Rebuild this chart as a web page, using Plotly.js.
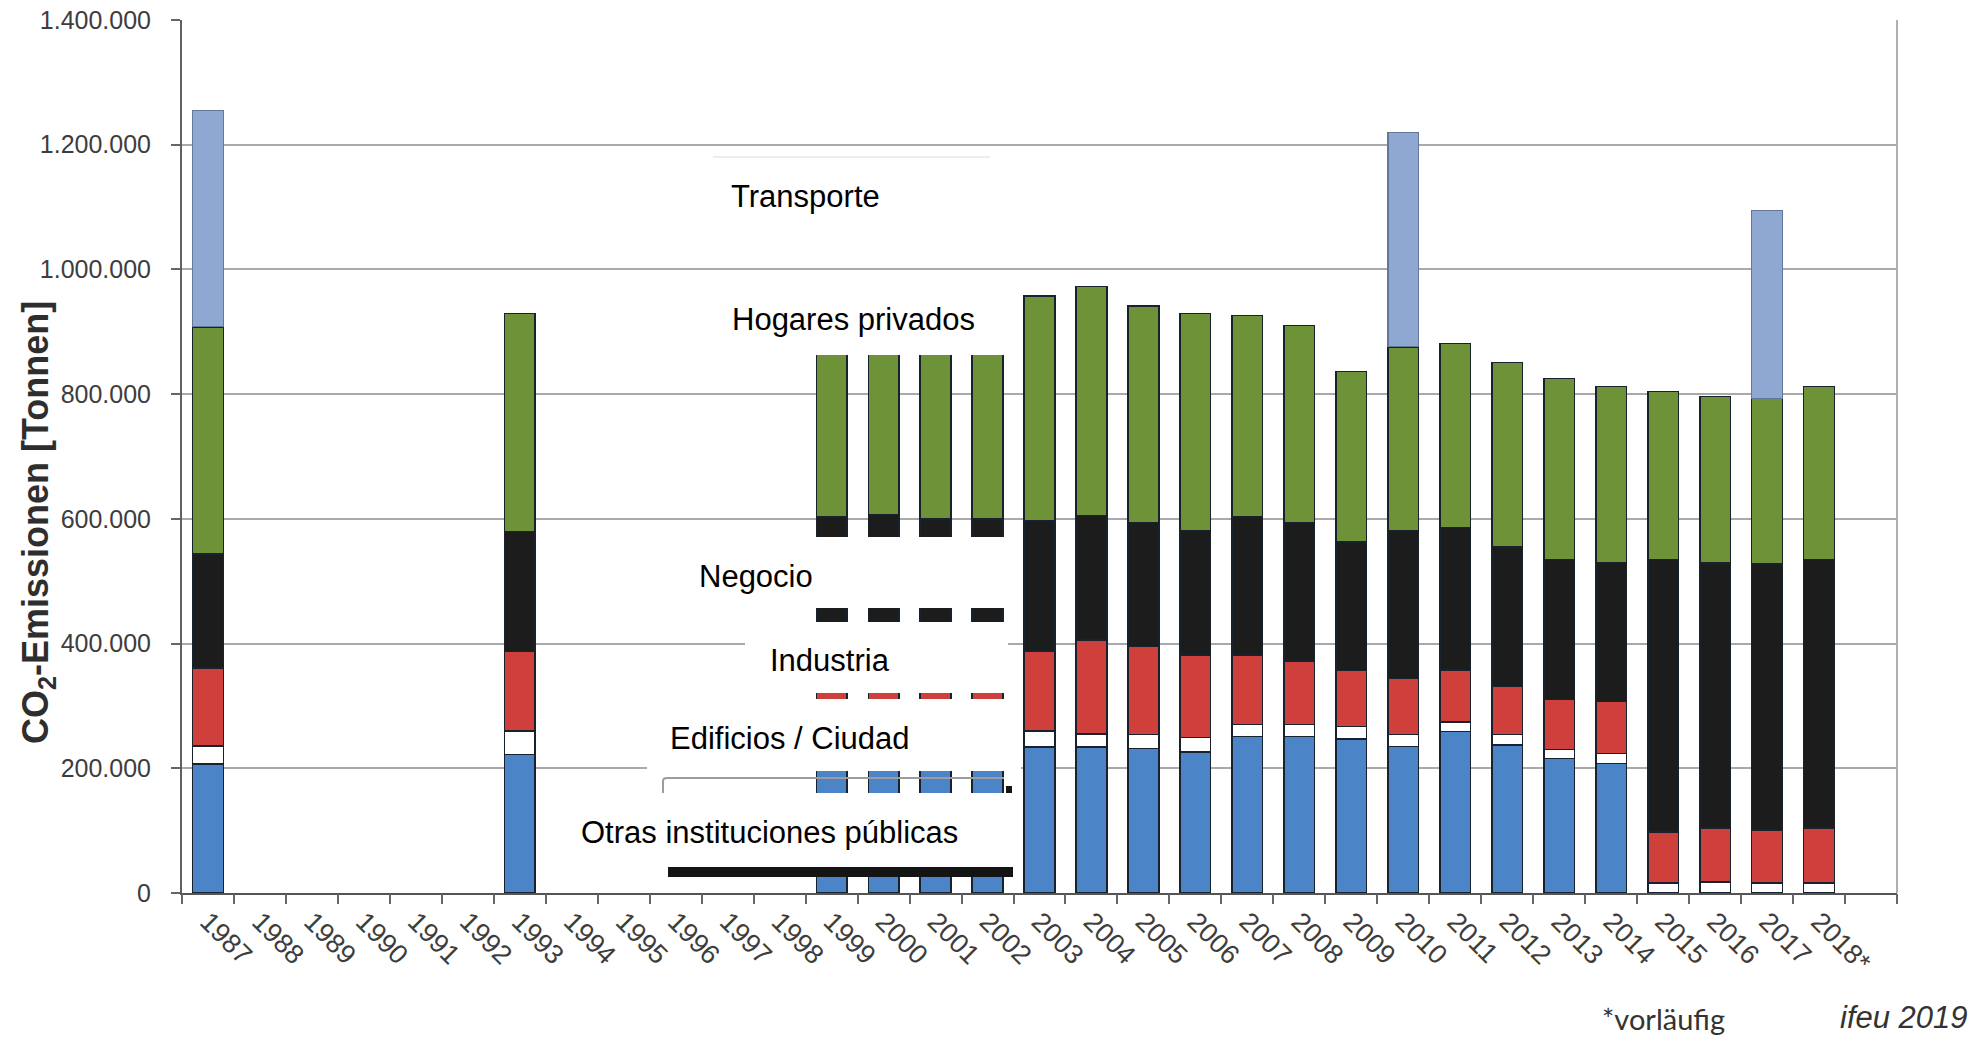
<!DOCTYPE html>
<html>
<head>
<meta charset="utf-8">
<script src="https://cdn.plot.ly/plotly-3.0.1.min.js"></script>
<style>
  html, body { margin: 0; padding: 0; background: #ffffff; }
  #chart { width: 1987px; height: 1040px; }
</style>
</head>
<body>
<div id="chart"></div>
<script>
// ---- data (tonnes CO2) ----
const years = ['1987','1988','1989','1990','1991','1992','1993','1994','1995','1996','1997','1998',
  '1999','2000','2001','2002','2003','2004','2005','2006','2007','2008','2009','2010','2011','2012',
  '2013','2014','2015','2016','2017','2018*'];

const otrasInstituciones = [207000,null,null,null,null,null,222000,null,null,null,null,null,
  235000,235000,235000,235000,234000,234000,232000,226000,251000,251000,247000,235000,259000,237000,
  216000,208000,0,0,0,0];
const edificiosCiudad = [29000,null,null,null,null,null,38000,null,null,null,null,null,
  23000,23000,23000,23000,26000,21000,22000,23000,19000,19000,20000,19000,15000,17000,
  14000,16000,16000,18000,16000,16000];
const industria = [125000,null,null,null,null,null,127000,null,null,null,null,null,
  130000,130000,130000,130000,128000,151000,141000,133000,112000,102000,90000,90000,84000,77000,
  80000,83000,82000,86000,85000,88000];
const negocio = [183000,null,null,null,null,null,193000,null,null,null,null,null,
  215000,219000,212000,212000,209000,199000,199000,199000,222000,222000,206000,237000,228000,224000,
  225000,223000,437000,425000,427000,431000];
const hogaresPrivados = [364000,null,null,null,null,null,349000,null,null,null,null,null,
  337000,333000,340000,340000,360000,368000,347000,348000,322000,316000,273000,295000,295000,296000,
  290000,282000,269000,267000,265000,277000];
const transporte = [347000,null,null,null,null,null,null,null,null,null,null,null,
  null,null,null,null,null,null,null,null,null,null,null,344000,null,null,
  null,null,null,null,302000,null];

const seriesNames = ['Otras instituciones públicas','Edificios / Ciudad','Industria','Negocio','Hogares privados','Transporte'];
const yTickVals = [0,200000,400000,600000,800000,1000000,1200000,1400000];

// ---- styling ----
const FONT = 'Liberation Sans, Arial, sans-serif';
const W = 1987, H = 1040;
const M = {l: 182, r: 90, t: 20, b: 147};
const PW = W - M.l - M.r, PH = H - M.t - M.b;
const px = X => (X - M.l) / PW;      // pixel -> paper x
const py = Y => (H - M.b - Y) / PH;  // pixel -> paper y
const NSLOTS = years.length + 1;      // one empty slot after the last year
const idx = years.map((_, i) => i);
const boundaryTicks = [];
for (let i = 0; i <= NSLOTS; i++) boundaryTicks.push(i - 0.5);

const outline = {color: '#18222c', width: 1.5};
function barTrace(name, vals, color, line) {
  return {type: 'bar', name: name, x: idx, y: vals,
    marker: {color: color, line: line || outline}, showlegend: false, hoverinfo: 'skip'};
}
const traces = [
  barTrace(seriesNames[0], otrasInstituciones, '#4b85c7'),
  barTrace(seriesNames[1], edificiosCiudad, '#ffffff'),
  barTrace(seriesNames[2], industria, '#cf403c'),
  barTrace(seriesNames[3], negocio, '#1c1c1c'),
  barTrace(seriesNames[4], hogaresPrivados, '#6e9237'),
  barTrace(seriesNames[5], transporte, '#8ea8d2', {color: '#62779a', width: 1.2}),
  {type: 'scatter', x: [], y: [], xaxis: 'x2', yaxis: 'y', showlegend: false, hoverinfo: 'skip'}
];

// label boxes (white panels covering the chart) in pixel coordinates
const boxes = [
  {x0: 713, x1: 1008, y0: 158, y1: 250},   // Transporte
  {x0: 700, x1: 1008, y0: 282, y1: 355},   // Hogares privados
  {x0: 665, x1: 1021, y0: 537, y1: 608},   // Negocio
  {x0: 745, x1: 1008, y0: 622, y1: 693},   // Industria
  {x0: 647, x1: 1021, y0: 699, y1: 771},   // Edificios / Ciudad
  {x0: 560, x1: 1021, y0: 793, y1: 867}    // Otras instituciones públicas
];
const labelPos = [
  {x: 729, y: 197, t: seriesNames[5]},
  {x: 730, y: 319, t: seriesNames[4]},
  {x: 697, y: 576, t: seriesNames[3]},
  {x: 768, y: 660, t: seriesNames[2]},
  {x: 668, y: 738, t: seriesNames[1]},
  {x: 579, y: 832, t: seriesNames[0]}
];

const shapes = [];
// right frame line
shapes.push({type: 'line', xref: 'paper', yref: 'paper', x0: 1, x1: 1, y0: 0, y1: 1,
  line: {color: '#b0b0b0', width: 2}, layer: 'above'});
boxes.forEach(b => shapes.push({type: 'rect', xref: 'paper', yref: 'paper',
  x0: px(b.x0), x1: px(b.x1), y0: py(b.y1), y1: py(b.y0),
  fillcolor: '#ffffff', line: {width: 0}, layer: 'above'}));
// remnants of the original legend frame
shapes.push({type: 'line', xref: 'paper', yref: 'paper', x0: px(713), x1: px(990), y0: py(157), y1: py(157),
  line: {color: '#dcdcdc', width: 1}, layer: 'above'});
shapes.push({type: 'path', xref: 'paper', yref: 'paper',
  path: 'M ' + px(663) + ' ' + py(793) + ' L ' + px(663) + ' ' + py(781) + ' Q ' + px(663) + ' ' + py(778) + ' ' + px(667) + ' ' + py(778) + ' L ' + px(1004) + ' ' + py(778),
  line: {color: '#9c9c9c', width: 2}, layer: 'above'});
shapes.push({type: 'rect', xref: 'paper', yref: 'paper', x0: px(1006), x1: px(1012), y0: py(793), y1: py(786),
  fillcolor: '#151515', line: {width: 0}, layer: 'above'});
shapes.push({type: 'rect', xref: 'paper', yref: 'paper', x0: px(668), x1: px(1013), y0: py(877), y1: py(867),
  fillcolor: '#141414', line: {width: 0}, layer: 'above'});

const annotations = labelPos.map(l => ({xref: 'paper', yref: 'paper', x: px(l.x), y: py(l.y),
  xanchor: 'left', yanchor: 'middle', showarrow: false, text: l.t,
  font: {family: FONT, size: 31, color: '#000000'}}));
annotations.push({xref: 'paper', yref: 'paper', x: px(38), y: py(523), xanchor: 'center', yanchor: 'middle',
  showarrow: false, textangle: -90, text: '<b>CO<sub>2</sub>-Emissionen [Tonnen]</b>',
  font: {family: FONT, size: 36, color: '#2e2e2e'}});
annotations.push({xref: 'paper', yref: 'paper', x: px(1600), y: py(1019), xanchor: 'left', yanchor: 'middle',
  showarrow: false, text: '*vorläufig', font: {family: 'Lato, sans-serif', size: 29, color: '#333333'}});
annotations.push({xref: 'paper', yref: 'paper', x: px(1970), y: py(1017), xanchor: 'right', yanchor: 'middle',
  showarrow: false, text: '<i>ifeu 2019</i>', font: {family: FONT, size: 31, color: '#333333'}});

const layout = {
  width: W, height: H,
  margin: M,
  paper_bgcolor: '#ffffff', plot_bgcolor: '#ffffff',
  barmode: 'stack', bargap: 0.41,
  separators: ',.',
  font: {family: FONT, color: '#3d3d3d'},
  showlegend: false,
  xaxis: {
    type: 'linear', range: [-0.5, NSLOTS - 0.5], autorange: false, fixedrange: true,
    tickmode: 'array', tickvals: idx, ticktext: years, ticks: '',
    tickangle: 45, tickfont: {family: FONT, size: 27, color: '#3d3d3d'},
    showgrid: false, showline: true, linecolor: '#555555', linewidth: 2, zeroline: false
  },
  xaxis2: {
    type: 'linear', overlaying: 'x', anchor: 'y', side: 'bottom',
    range: [-0.5, NSLOTS - 0.5], autorange: false, fixedrange: true,
    tickmode: 'array', tickvals: boundaryTicks, showticklabels: false,
    ticks: 'outside', ticklen: 10, tickwidth: 2, tickcolor: '#666666',
    showgrid: false, showline: false, zeroline: false
  },
  yaxis: {
    range: [0, 1400000], autorange: false, fixedrange: true,
    tickmode: 'array', tickvals: yTickVals, tickformat: ',d',
    ticks: 'outside', ticklen: 9, tickwidth: 2, tickcolor: '#666666', ticklabelstandoff: 15,
    tickfont: {family: FONT, size: 25, color: '#3d3d3d'},
    showgrid: true, gridcolor: '#a9a9a9', gridwidth: 2,
    showline: true, linecolor: '#606060', linewidth: 2, zeroline: false
  },
  shapes: shapes,
  annotations: annotations
};

Plotly.newPlot('chart', traces, layout, {staticPlot: true, displayModeBar: false});
</script>
</body>
</html>
